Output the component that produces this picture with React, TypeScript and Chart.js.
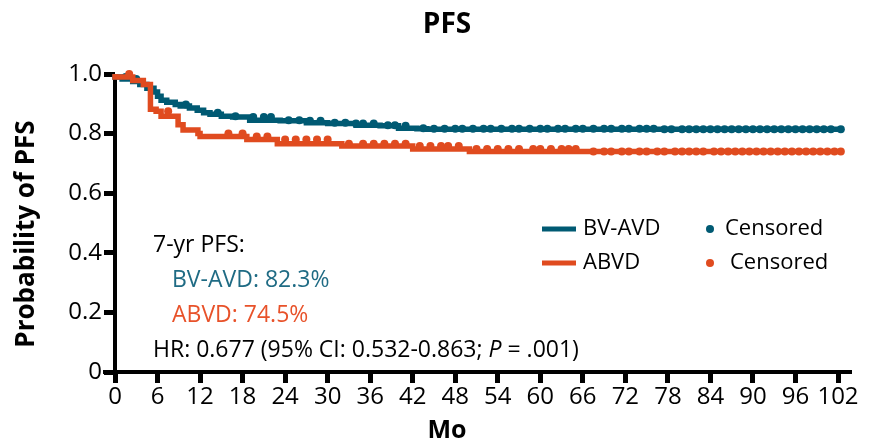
import React, { useEffect, useRef } from "react";
import { Chart, registerables } from "chart.js";

Chart.register(...registerables);

// ---- Data ----
const bvTimes = [0, 1, 2.5, 3.5, 4.5, 5.5, 6, 6.5, 7.3, 8.5, 9.2, 10.5, 11.6, 12.5, 13.4, 15, 16.6, 19, 23.3, 27, 30, 34, 37.4, 40, 42.6, 44, 77];
const bvSurv = [1.0, 0.99, 0.983, 0.975, 0.965, 0.952, 0.94, 0.925, 0.912, 0.905, 0.898, 0.893, 0.886, 0.878, 0.87, 0.865, 0.858, 0.856, 0.845, 0.843, 0.836, 0.834, 0.828, 0.826, 0.818, 0.816, 0.815];
const abvdTimes = [0, 2.5, 4, 5, 5.8, 6.5, 8.9, 9.6, 11.7, 12, 18.6, 22.9, 32, 42, 50, 66.5];
const abvdSurv = [1.0, 0.99, 0.978, 0.965, 0.882, 0.875, 0.858, 0.83, 0.812, 0.8, 0.79, 0.78, 0.766, 0.758, 0.748, 0.74];

const bvCensored = [1.5, 3, 10, 14.5, 17, 19.5, 21, 22, 24.5, 26, 27.5, 29, 31, 32.5, 34, 35, 36.5, 38.5, 39.5, 41, 43.5, 45, 46.5, 48, 49, 50.5, 52, 53, 54.5, 56, 57, 58.5, 60, 61, 62.5, 63.5, 65, 66, 67.5, 69, 70, 71.5, 72.5, 74, 75, 76, 77.5, 78.5, 80, 81, 82, 83, 84, 85, 86, 87, 88, 89, 90, 91, 92, 93, 94, 95, 96, 97, 98, 99, 100, 101, 102.4];
const abvdCensored = [2, 7.5, 16, 18, 20, 21.5, 24, 25.5, 27, 28.5, 30, 33, 35, 36.5, 38, 39.5, 41, 43, 44.5, 46, 47, 48.5, 51, 52.5, 54, 55.5, 57, 59, 60, 61.5, 63, 64, 65, 67.5, 69, 70, 71.5, 72.5, 74, 75, 76.5, 77.5, 79, 80, 81, 82, 83, 84.5, 85.5, 86.5, 87.5, 88.5, 89.5, 90.5, 91.5, 92.5, 93.5, 94.5, 95.5, 96.5, 97.5, 98.5, 99.5, 100.5, 101.5, 102.4];

const xTicks = [0, 6, 12, 18, 24, 30, 36, 42, 48, 54, 60, 66, 72, 78, 84, 90, 96, 102];
const yTicks = [0, 0.2, 0.4, 0.6, 0.8, 1.0];
const yTickLabels = ["0", "0.2", "0.4", "0.6", "0.8", "1.0"];

const seriesNames = ["BV-AVD", "ABVD"];
const pfs7yr = ["82.3%", "74.5%"];

const TEAL = "#005A73";
const ORANGE = "#E04B1F";
const TEAL_TEXT = "#1F6B84";
const ORANGE_TEXT = "#E8522A";
const FONT = "'Open Sans', sans-serif";

function stepAt(times: number[], surv: number[], t: number) {
  let v = surv[0];
  for (let i = 0; i < times.length; i++) if (times[i] <= t) v = surv[i];
  return v;
}

function curve(times: number[], surv: number[], end: number) {
  const pts = times.map((t, i) => ({ x: t, y: surv[i] }));
  pts.push({ x: end, y: surv[surv.length - 1] });
  return pts;
}

const decorPlugin = {
  id: "decor",
  beforeDatasetsDraw(chart: any) {
    const { ctx, chartArea } = chart;
    ctx.save();
    ctx.strokeStyle = "#000";
    ctx.lineWidth = 4;
    ctx.beginPath();
    ctx.moveTo(chartArea.left - 12, chartArea.bottom);
    ctx.lineTo(chartArea.right + 14, chartArea.bottom);
    ctx.stroke();
    ctx.beginPath();
    ctx.moveTo(chartArea.left, chartArea.top + 3);
    ctx.lineTo(chartArea.left, chartArea.bottom + 2);
    ctx.stroke();
    ctx.restore();
  },
  afterDraw(chart: any) {
    const { ctx } = chart;
    ctx.save();
    ctx.textBaseline = "middle";
    // title
    ctx.fillStyle = "#000";
    ctx.textAlign = "center";
    ctx.font = `bold 28px ${FONT}`;
    ctx.fillText("PFS", 447, 25);
    ctx.font = `bold 25px ${FONT}`;
    ctx.fillText("Mo", 447, 431);
    ctx.save();
    ctx.translate(27, 234);
    ctx.rotate(-Math.PI / 2);
    ctx.font = `bold 26px ${FONT}`;
    ctx.fillText("Probability of PFS", 0, 0);
    ctx.restore();

    // annotation
    ctx.textAlign = "left";
    const fs = 23;
    ctx.font = `${fs}px ${FONT}`;
    ctx.fillStyle = "#000";
    ctx.fillText("7-yr PFS:", 153, 245);
    ctx.fillStyle = TEAL_TEXT;
    ctx.fillText(`${seriesNames[0]}: ${pfs7yr[0]}`, 172, 280);
    ctx.fillStyle = ORANGE_TEXT;
    ctx.fillText(`${seriesNames[1]}: ${pfs7yr[1]}`, 172, 315);
    ctx.fillStyle = "#000";
    let x = 153;
    const s1 = "HR: 0.677 (95% CI: 0.532-0.863; ";
    ctx.fillText(s1, x, 350);
    x += ctx.measureText(s1).width;
    ctx.font = `italic ${fs}px ${FONT}`;
    ctx.fillText("P", x, 350);
    x += ctx.measureText("P").width;
    ctx.font = `${fs}px ${FONT}`;
    ctx.fillText(" = .001)", x, 350);

    // legend
    const rows = [
      { name: seriesNames[0], color: TEAL, y: 229, cx: 725 },
      { name: seriesNames[1], color: ORANGE, y: 263, cx: 730 },
    ];
    ctx.font = `22px ${FONT}`;
    for (const r of rows) {
      ctx.strokeStyle = r.color;
      ctx.lineWidth = 5;
      ctx.beginPath();
      ctx.moveTo(542, r.y);
      ctx.lineTo(576, r.y);
      ctx.stroke();
      ctx.fillStyle = "#000";
      ctx.fillText(r.name, 583, r.y);
      ctx.fillStyle = r.color;
      ctx.beginPath();
      ctx.arc(710, r.y, 4, 0, Math.PI * 2);
      ctx.fill();
      ctx.fillStyle = "#000";
      ctx.fillText("Censored", r.cx, r.y);
    }
    ctx.restore();
  },
};

export default function App() {
  const ref = useRef<HTMLCanvasElement>(null);
  useEffect(() => {
    document.body.style.margin = "0";
    const lastBv = bvCensored[bvCensored.length - 1];
    const lastAb = abvdCensored[abvdCensored.length - 1];
    const chart = new Chart(ref.current!, {
      type: "line",
      data: {
        datasets: [
          {
            label: "ABVD Censored",
            data: abvdCensored.map((t) => ({ x: t, y: stepAt(abvdTimes, abvdSurv, t) })),
            showLine: false,
            pointRadius: 4,
            pointBorderWidth: 0,
            pointBackgroundColor: ORANGE,
            borderColor: ORANGE,
            clip: false,
          } as any,
          {
            label: "ABVD",
            data: curve(abvdTimes, abvdSurv, lastAb),
            stepped: "after",
            borderColor: ORANGE,
            borderWidth: 5.5,
            pointRadius: 0,
            clip: false,
          },
          {
            label: "BV-AVD Censored",
            data: bvCensored.map((t) => ({ x: t, y: stepAt(bvTimes, bvSurv, t) })),
            showLine: false,
            pointRadius: 4,
            pointBorderWidth: 0,
            pointBackgroundColor: TEAL,
            borderColor: TEAL,
            clip: false,
          } as any,
          {
            label: "BV-AVD",
            data: curve(bvTimes, bvSurv, lastBv),
            stepped: "after",
            borderColor: TEAL,
            borderWidth: 5.5,
            pointRadius: 0,
            clip: false,
          },
        ],
      },
      options: {
        animation: false,
        responsive: false,
        layout: { padding: { top: 74, right: 33, left: 0, bottom: 0 } },
        plugins: { legend: { display: false }, tooltip: { enabled: false }, title: { display: false } },
        scales: {
          x: {
            type: "linear",
            min: 0,
            max: 102,
            afterFit: (s: any) => { s.height = 71; },
            afterBuildTicks: (s: any) => { s.ticks = xTicks.map((v) => ({ value: v })); },
            grid: { drawOnChartArea: false, drawTicks: true, tickLength: 11, lineWidth: 5, color: "#000" },
            border: { display: false },
            ticks: { color: "#000", font: { family: FONT, size: 24 }, padding: 0, maxRotation: 0, autoSkip: false },
          },
          y: {
            type: "linear",
            min: 0,
            max: 1,
            afterFit: (s: any) => { s.width = 115; },
            afterBuildTicks: (s: any) => { s.ticks = yTicks.map((v) => ({ value: v })); },
            grid: { drawOnChartArea: false, drawTicks: true, tickLength: 11, lineWidth: 5, color: "#000" },
            border: { display: false },
            ticks: {
              color: "#000",
              font: { family: FONT, size: 24 },
              padding: 2,
              callback: (v: any) => {
                const i = yTicks.findIndex((t) => Math.abs(t - Number(v)) < 1e-6);
                return i >= 0 ? yTickLabels[i] : "";
              },
            },
          },
        },
      },
      plugins: [decorPlugin],
    });
    return () => chart.destroy();
  }, []);
  return (
    <div style={{ width: 871, height: 443 }}>
      <canvas ref={ref} width={871} height={443} />
    </div>
  );
}
